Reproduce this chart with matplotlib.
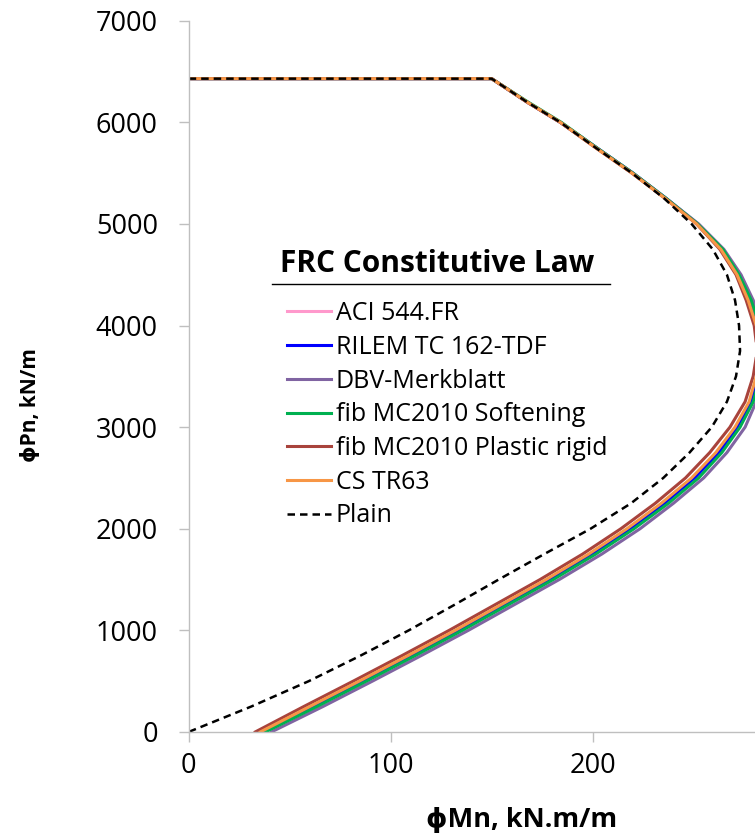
import matplotlib
matplotlib.use("Agg")
import matplotlib.pyplot as plt
from matplotlib.lines import Line2D

plt.rcParams['font.family'] = ['Open Sans', 'DejaVu Sans']

# axial load levels shared by every interaction curve (kN/m)
pn = [6430, 6430, 6200, 6000, 5750, 5500, 5250, 5000, 4750, 4500, 4250, 4000, 3750,
      3500, 3250, 3000, 2750, 2500, 2250, 2000, 1750, 1500, 1250, 1000, 750, 500, 250, 0]

# moment capacity for each constitutive law (kN.m/m)
mn_aci = [0, 150, 167.5, 184, 201.5, 219.5, 236, 251.5, 263.5, 271.5, 277.5, 281.5, 283,
          281.5, 278, 271, 261.5, 249.5, 234.5, 217.5, 198.5, 177.5, 155, 132.5, 109, 85, 60.5, 36]
mn_rilem = [0, 150, 167.5, 184, 202, 220, 236.5, 252, 264, 272, 278, 282, 283.5,
            282, 278.5, 271.5, 262.5, 250.5, 235.5, 218.5, 199.5, 178.5, 156, 133.5, 110, 86, 61.5, 37]
mn_dbv = [0, 150, 167.5, 184, 202, 220, 236.5, 252.5, 265, 273.5, 279.5, 284, 286,
          284.5, 281, 275.5, 266.5, 255, 240, 223.5, 204.5, 183.5, 161, 138.5, 115, 91, 66.5, 41]
mn_fib_soft = [0, 150, 168, 184.5, 202, 220, 236.5, 252, 264.5, 272.5, 278.5, 282.5, 284.5,
               283, 279.5, 273, 264, 252.5, 237.5, 220.5, 201.5, 180.5, 158, 135.5, 112, 88, 63.5, 38]
mn_fib_rigid = [0, 150, 167.5, 184, 201.5, 219.5, 236, 251.5, 263, 271, 276, 280, 281.5,
                279.5, 275.5, 268, 258, 246, 231, 214, 195, 174, 151.5, 129, 105.5, 81.5, 57, 33]
mn_cs = [0, 150, 167.5, 184, 201.5, 219.5, 236, 251.5, 263.5, 271.5, 277, 281, 282.8,
         281, 277.5, 270.5, 261, 249, 234, 217, 198, 177, 154.5, 132, 108.5, 84.5, 60, 35.5]
mn_plain = [0, 150, 167.5, 184, 201.5, 219.5, 235.5, 249, 259.5, 266.5, 270.5, 272.5, 273,
            271, 266.5, 259, 248, 235, 219, 199, 176, 153.5, 131.5, 109, 85, 59.5, 31, 0]

series = [
    ("ACI 544.FR", mn_aci, "#FF99CC"),
    ("RILEM TC 162-TDF", mn_rilem, "#0000FF"),
    ("DBV-Merkblatt", mn_dbv, "#8064A2"),
    ("fib MC2010 Softening", mn_fib_soft, "#00B050"),
    ("fib MC2010 Plastic rigid", mn_fib_rigid, "#A8433C"),
    ("CS TR63", mn_cs, "#F79646"),
]

fig = plt.figure(figsize=(7.55, 8.36), dpi=100)
ax = fig.add_axes([0.2499, 0.1245, 0.7501, 0.8507])

for name, mn, col in series:
    ax.plot(mn, pn, color=col, lw=2.2, label=name, solid_joinstyle="round")
ax.plot(mn_plain, pn, color="black", lw=1.8, ls=(0, (3, 2)), label="Plain")

ax.set_xlim(0, 280.4)
ax.set_ylim(0, 7000)
ax.set_xticks([0, 100, 200])
ax.set_yticks(range(0, 7001, 1000))

for s in ["top", "right"]:
    ax.spines[s].set_visible(False)
for s in ["left", "bottom"]:
    ax.spines[s].set_color("#BFBFBF")
    ax.spines[s].set_linewidth(1)
ax.tick_params(axis="both", direction="out", length=7.2, width=1, color="#BFBFBF",
               labelsize=19.5, labelcolor="black")
ax.tick_params(axis="y", pad=15)
ax.tick_params(axis="x", pad=7)

ax.set_xlabel("ϕMn, kN.m/m", fontsize=19.5, fontweight="bold")
ax.xaxis.set_label_coords(0.587, -0.1236)
ax.xaxis.label.set_va("center")
ax.set_ylabel("ϕPn, kN/m", fontsize=15, fontweight="bold")
ax.yaxis.set_label_coords(-0.280, 0.4597)
ax.yaxis.label.set_va("center")

# legend heading with a rule under it
fig.text(437.5 / 755, 1 - 264 / 836, "FRC Constitutive Law", fontsize=21.5,
         fontweight="bold", ha="center", va="center")
fig.add_artist(Line2D([271.7 / 755, 610 / 755], [1 - 283.5 / 836] * 2,
                      color="black", lw=1, transform=fig.transFigure))

ax.legend(loc="upper left", bbox_to_anchor=(286.7 / 755, 1 - 301 / 836),
          bbox_transform=fig.transFigure, frameon=False, fontsize=18,
          borderpad=0, borderaxespad=0, handlelength=1.76, handletextpad=0.2,
          labelspacing=0.35)

fig.savefig("out.png", dpi=100)
